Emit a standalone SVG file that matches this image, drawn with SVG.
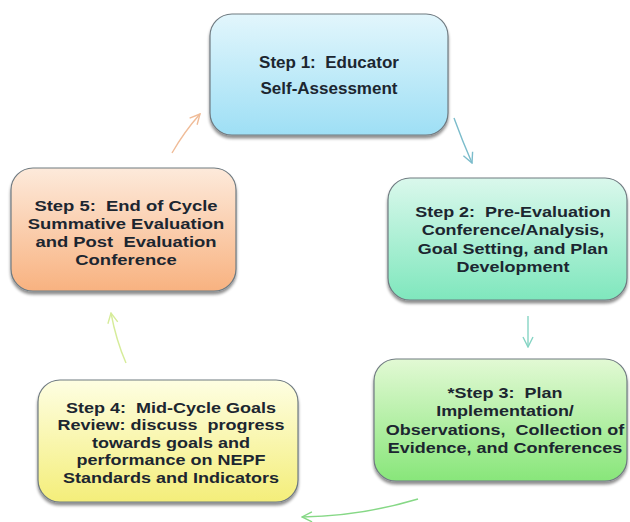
<svg xmlns="http://www.w3.org/2000/svg" width="630" height="522" viewBox="0 0 630 522">
<defs>
<linearGradient id="g1" x1="0" y1="0" x2="0" y2="1"><stop offset="0" stop-color="#e2f6fc"/><stop offset="1" stop-color="#9edff5"/></linearGradient>
<linearGradient id="g2" x1="0" y1="0" x2="0" y2="1"><stop offset="0" stop-color="#daf8ec"/><stop offset="1" stop-color="#7fe7bd"/></linearGradient>
<linearGradient id="g3" x1="0" y1="0" x2="0" y2="1"><stop offset="0" stop-color="#e2f9d4"/><stop offset="1" stop-color="#88e67a"/></linearGradient>
<linearGradient id="g4" x1="0" y1="0" x2="0" y2="1"><stop offset="0" stop-color="#fefee2"/><stop offset="1" stop-color="#f4ee7a"/></linearGradient>
<linearGradient id="g5" x1="0" y1="0" x2="0" y2="1"><stop offset="0" stop-color="#fdeadb"/><stop offset="1" stop-color="#f8b280"/></linearGradient>
<filter id="sh" x="-10%" y="-10%" width="120%" height="125%">
<feGaussianBlur in="SourceAlpha" stdDeviation="1.5"/>
<feOffset dx="0" dy="3" result="b"/>
<feComponentTransfer><feFuncA type="linear" slope="0.45"/></feComponentTransfer>
<feMerge><feMergeNode/><feMergeNode in="SourceGraphic"/></feMerge>
</filter>
<marker id="m1" viewBox="0 0 12 12" refX="11" refY="6" markerWidth="12" markerHeight="12" markerUnits="userSpaceOnUse" orient="auto"><path d="M1,1 L11,6 L1,11" fill="none" stroke="#7bbccb" stroke-width="1.4"/></marker>
<marker id="m2" viewBox="0 0 12 12" refX="11" refY="6" markerWidth="12" markerHeight="12" markerUnits="userSpaceOnUse" orient="auto"><path d="M1,1 L11,6 L1,11" fill="none" stroke="#86d4c4" stroke-width="1.4"/></marker>
<marker id="m3" viewBox="0 0 12 12" refX="11" refY="6" markerWidth="12" markerHeight="12" markerUnits="userSpaceOnUse" orient="auto"><path d="M1,1 L11,6 L1,11" fill="none" stroke="#86d886" stroke-width="1.4"/></marker>
<marker id="m4" viewBox="0 0 12 12" refX="11" refY="6" markerWidth="12" markerHeight="12" markerUnits="userSpaceOnUse" orient="auto"><path d="M1,1 L11,6 L1,11" fill="none" stroke="#d6ec9a" stroke-width="1.4"/></marker>
<marker id="m5" viewBox="0 0 12 12" refX="11" refY="6" markerWidth="12" markerHeight="12" markerUnits="userSpaceOnUse" orient="auto"><path d="M1,1 L11,6 L1,11" fill="none" stroke="#f0bc98" stroke-width="1.4"/></marker>
</defs>
<style>
.box{stroke:#6f7a80;stroke-width:1.2;filter:url(#sh)}
.t{font-family:"Liberation Sans",Arial,sans-serif;font-weight:bold;font-size:15.5px;fill:#1c2630;text-anchor:middle;white-space:pre}
.c{fill:none;stroke-width:1.4}
</style>
<rect width="630" height="522" fill="#ffffff"/>
<g id="connectors">
<path class="c" d="M454,118 Q462,140 472,163" stroke="#7bbccb" marker-end="url(#m1)"/>
<path class="c" d="M528,316 L528,347" stroke="#86d4c4" marker-end="url(#m2)"/>
<path class="c" d="M418,499 Q362,516 302,517" stroke="#86d886" marker-end="url(#m3)"/>
<path class="c" d="M126,363 Q116,340 111,313" stroke="#d6ec9a" marker-end="url(#m4)"/>
<path class="c" d="M172,153 Q184,132 200,114" stroke="#f0bc98" marker-end="url(#m5)"/>
</g>
<g id="step1">
<rect class="box" x="210" y="14" width="238" height="121" rx="22" fill="url(#g1)"/>
<text class="t" style="font-size:17px" x="329" y="68">Step 1:  Educator</text>
<text class="t" style="font-size:17px" x="329" y="94">Self-Assessment</text>
</g>
<g id="step2">
<rect class="box" x="388" y="178" width="239" height="122" rx="22" fill="url(#g2)"/>
<g transform="translate(513,0) scale(1.16,1)">
<text class="t" x="0" y="217">Step 2:  Pre-Evaluation</text>
<text class="t" x="0" y="235.5">Conference/Analysis,</text>
<text class="t" x="0" y="254">Goal Setting, and Plan</text>
<text class="t" x="0" y="272.5">Development</text>
</g>
</g>
<g id="step3">
<rect class="box" x="374" y="359" width="253" height="122" rx="22" fill="url(#g3)"/>
<g transform="translate(505,0) scale(1.16,1)">
<text class="t" x="0" y="398">*Step 3:  Plan</text>
<text class="t" x="0" y="416.5">Implementation/</text>
<text class="t" x="0" y="435">Observations,  Collection of</text>
<text class="t" x="0" y="453.5">Evidence, and Conferences</text>
</g>
</g>
<g id="step4">
<rect class="box" x="38" y="380" width="260" height="122" rx="22" fill="url(#g4)"/>
<g transform="translate(171,0) scale(1.2,1)">
<text class="t" style="font-size:15px" x="0" y="413">Step 4:  Mid-Cycle Goals</text>
<text class="t" style="font-size:15px" x="0" y="430.5">Review: discuss  progress</text>
<text class="t" style="font-size:15px" x="0" y="448">towards goals and</text>
<text class="t" style="font-size:15px" x="0" y="465.5">performance on NEPF</text>
<text class="t" style="font-size:15px" x="0" y="483">Standards and Indicators</text>
</g>
</g>
<g id="step5">
<rect class="box" x="11" y="168" width="225" height="123" rx="22" fill="url(#g5)"/>
<g transform="translate(126,0) scale(1.19,1)">
<text class="t" x="0" y="211">Step 5:  End of Cycle</text>
<text class="t" x="0" y="229">Summative Evaluation</text>
<text class="t" x="0" y="247">and Post  Evaluation</text>
<text class="t" x="0" y="265">Conference</text>
</g>
</g>
</svg>
